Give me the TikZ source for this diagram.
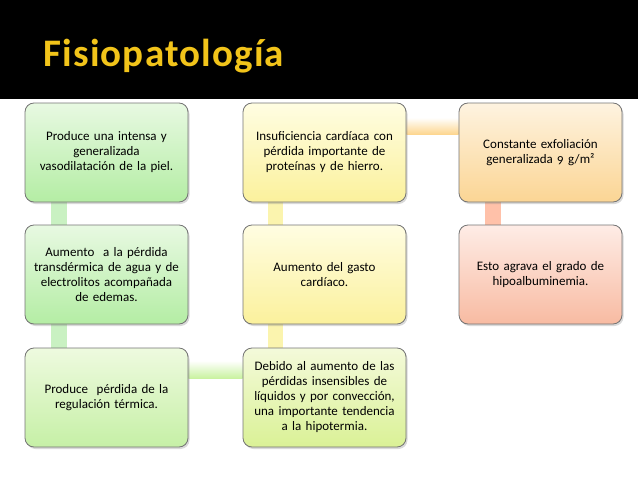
\documentclass[tikz,border=0pt]{standalone}
\usepackage{fontspec}
\setmainfont{Carlito}[Numbers=OldStyle]
\usetikzlibrary{calc,shadows,backgrounds}
\definecolor{titulo}{HTML}{F2C41A}
\definecolor{borde}{HTML}{747474}
\definecolor{verdeA}{HTML}{E8F9E2}
\definecolor{verdeB}{HTML}{B4EDA4}
\definecolor{verdeC}{HTML}{EEFADF}
\definecolor{verdeD}{HTML}{C6F0A6}
\definecolor{limaA}{HTML}{F4FADA}
\definecolor{limaB}{HTML}{DAF196}
\definecolor{amarA}{HTML}{FFFDE2}
\definecolor{amarB}{HTML}{FBF19C}
\definecolor{naraA}{HTML}{FEF3E0}
\definecolor{naraB}{HTML}{FBD594}
\definecolor{salmA}{HTML}{FEECE6}
\definecolor{salmB}{HTML}{F8BBA2}
\definecolor{barraV}{HTML}{C9F1C2}
\definecolor{barraA}{HTML}{FBF4AE}
\definecolor{barraS}{HTML}{FFC1A9}
\definecolor{barraH}{HTML}{C8F29E}
\definecolor{barraN}{HTML}{FDD58C}
\begin{document}
\begin{tikzpicture}[x=1pt,y=-1pt]
                \tikzstyle{caja}=[draw=borde, line width=0.8pt, rounded corners=9pt, minimum width=163pt, minimum height=99pt, text width=155pt, align=center, font=\fontsize{13}{15}\selectfont, drop shadow={opacity=0.3, shadow xshift=1.5pt, shadow yshift=-2pt}]
                \useasboundingbox (0,0) rectangle (638,479);
                \fill [black] (0,0) rectangle (638,99);
                \node (titulo) [anchor=base west, text=titulo, font=\fontsize{39}{44}\bfseries\addfontfeature{LetterSpace=3}\selectfont] at (40,66) {Fisiopatología};
                % columna izquierda
                \node (pa) [caja, top color=verdeA, bottom color=verdeB] at (106.5,152.5) {Produce una intensa y\\ generalizada\\ vasodilatación de la piel.};
                \node (pb) [caja, top color=verdeA, bottom color=verdeB] at (106.5,274.5) {Aumento\ \ a la pérdida\\ transdérmica de agua y de\\ electrolitos acompañada\\ de edemas.};
                \node (pc) [caja, top color=verdeC, bottom color=verdeD] at (106.5,397.5) {Produce\ \ pérdida de la\\ regulación térmica.};
                % columna central
                \node (pd) [caja, top color=limaA, bottom color=limaB] at (324.5,397.5) {Debido al aumento de las\\ pérdidas insensibles de\\ líquidos y por convección,\\ una importante tendencia\\ a la hipotermia.};
                \node (pe) [caja, top color=amarA, bottom color=amarB] at (324.5,274.5) {Aumento del gasto\\ cardíaco.};
                \node (pf) [caja, top color=amarA, bottom color=amarB] at (324.5,152.5) {Insuficiencia cardíaca con\\ pérdida importante de\\ proteínas y de hierro.};
                % columna derecha
                \node (pg) [caja, top color=naraA, bottom color=naraB] at (540.5,152.5) {Constante exfoliación\\ generalizada 9 g/m²};
                \node (ph) [caja, top color=salmA, bottom color=salmB] at (540.5,274.5) {Esto agrava el grado de\\ hipoalbuminemia.};
                % barras
                \begin{scope}[on background layer]
                \fill [barraV] ($(pa.south west)+(26,0)$) rectangle ($(pb.north west)+(42,0)$);
                \fill [barraV] ($(pb.south west)+(26,0)$) rectangle ($(pc.north west)+(42,0)$);
                \shade [top color=white, bottom color=barraH] ($(pc.north east)+(0,13)$) rectangle ($(pd.north west)+(0,31)$);
                \fill [barraA] ($(pd.north west)+(25,0)$) rectangle ($(pe.south west)+(40,0)$);
                \fill [barraA] ($(pe.north west)+(25,0)$) rectangle ($(pf.south west)+(40,0)$);
                \shade [top color=white, bottom color=barraN] ($(pf.north east)+(0,15)$) rectangle ($(pg.north west)+(0,32)$);
                \fill [barraS] ($(pg.south west)+(26,0)$) rectangle ($(ph.north west)+(42,0)$);
                \end{scope}
\end{tikzpicture}
\end{document}
